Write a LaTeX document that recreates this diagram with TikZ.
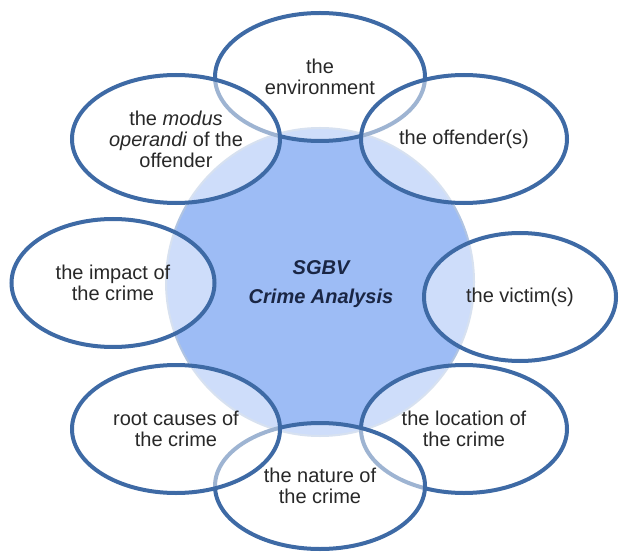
\documentclass[tikz,border=0pt]{standalone}
\usepackage{fontspec}
\setmainfont{Liberation Sans}
\usetikzlibrary{shapes.geometric}
\definecolor{ringblue}{RGB}{62,106,165}
\definecolor{hubfill}{RGB}{157,188,245}
\definecolor{hubedge}{RGB}{176,196,226}
\definecolor{txt}{RGB}{40,40,40}
\definecolor{hubtxt}{RGB}{26,38,68}
\tikzset{
  petal/.style={ellipse, draw=ringblue, line width=4bp, fill=white, fill opacity=0.5,
    text opacity=1, text=txt, inner sep=0pt, align=center,
    font=\fontsize{20bp}{21bp}\selectfont},
  hub/.style={circle, draw=hubedge, line width=2bp, fill=hubfill, inner sep=0pt,
    minimum size=308bp, align=center, text=hubtxt,
    font=\fontsize{20bp}{29bp}\selectfont\bfseries\itshape}
}
\begin{document}
\begin{tikzpicture}[x=1bp,y=-1bp]
\useasboundingbox (0,0) rectangle (620,552);
\node[hub] (hub) at (320,282) {};
\node[petal, minimum width=210bp, minimum height=128bp] (env) at (320,77) {the\\environment};
\node[petal, minimum width=206bp, minimum height=128bp] (loc) at (464,429) {the location of\\the crime};
\node[petal, minimum width=210bp, minimum height=126bp] (nat) at (320,486) {the nature of\\the crime};
\node[petal, minimum width=208bp, minimum height=128bp] (mod) at (176,139) {the \textit{modus}\\\textit{operandi} of the\\offender};
\node[petal, minimum width=206bp, minimum height=128bp] (off) at (464,139) {the offender(s)};
\node[petal, minimum width=208bp, minimum height=128bp] (root) at (176,429) {root causes of\\the crime};
\node[petal, minimum width=203bp, minimum height=128bp] (imp) at (113,283) {the impact of\\the crime};
\node[petal, minimum width=192bp, minimum height=128bp] (vic) at (520,297) {the victim(s)};
\node[text=hubtxt, align=center, font=\fontsize{20bp}{29bp}\selectfont\bfseries\itshape] (title) at (321,284) {SGBV\\Crime Analysis};
\end{tikzpicture}
\end{document}
